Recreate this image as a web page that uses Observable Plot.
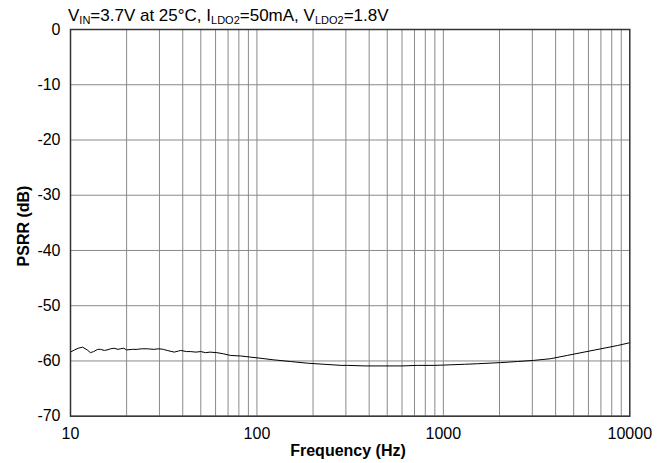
<!DOCTYPE html>
<html>
<head>
<meta charset="utf-8">
<script src="https://cdn.jsdelivr.net/npm/d3@7"></script>
<script src="https://cdn.jsdelivr.net/npm/@observablehq/plot@0.6"></script>
<style>
  body { margin: 0; background: #fff; }
  #chart svg { display: block; }
</style>
</head>
<body>
<div id="chart"></div>
<script>
const freq = [10, 10.5, 11, 11.6, 12.3, 12.8, 13.3, 14, 14.5, 15.2, 15.7, 16.4, 17.1, 18, 18.5, 19.3, 20, 21.5, 22.8, 24, 25.8, 28, 29.8, 31.5, 33, 35, 36, 38, 39, 42, 44, 47, 50, 53, 56, 61, 66, 72, 82, 92, 104, 123, 151, 186, 229, 283, 306, 380, 480, 600, 727, 900, 1095, 1300, 1527, 2030, 2500, 3050, 3750, 4620, 5680, 7000, 8610, 10000];
const psrr = [-58.4, -58.0, -57.7, -57.5, -58.0, -58.5, -58.3, -57.9, -57.9, -58.1, -58.0, -57.8, -57.7, -57.9, -57.8, -57.7, -58.0, -57.9, -57.9, -57.8, -57.8, -57.9, -57.8, -57.9, -58.1, -58.3, -58.4, -58.2, -58.1, -58.3, -58.3, -58.4, -58.3, -58.5, -58.4, -58.5, -58.7, -59.0, -59.1, -59.3, -59.5, -59.8, -60.1, -60.4, -60.6, -60.8, -60.8, -60.9, -60.9, -60.9, -60.8, -60.8, -60.7, -60.6, -60.5, -60.3, -60.1, -59.9, -59.6, -59.0, -58.4, -57.8, -57.2, -56.7];
const xTicks = [10, 100, 1000, 10000];
const xGrid = [20, 30, 40, 50, 60, 70, 80, 90, 100, 200, 300, 400, 500, 600, 700, 800, 900, 1000, 2000, 3000, 4000, 5000, 6000, 7000, 8000, 9000];
const yTicks = [-70, -60, -50, -40, -30, -20, -10, 0];

const data = freq.map((f, i) => ({f, v: psrr[i]}));

const chart = Plot.plot({
  width: 667,
  height: 463,
  marginLeft: 70,
  marginRight: 37.7,
  marginTop: 29,
  marginBottom: 47.3,
  style: {fontFamily: "Liberation Sans, Arial, sans-serif", fontSize: "16px", background: "#fff", color: "#000"},
  x: {type: "log", domain: [10, 10000]},
  y: {domain: [-70, 0]},
  marks: [
    Plot.ruleX(xGrid, {stroke: "#8a8a8a", strokeWidth: 1}),
    Plot.ruleY(yTicks, {stroke: "#8a8a8a", strokeWidth: 1}),
    Plot.line(data, {x: "f", y: "v", stroke: "#000", strokeWidth: 1}),
    Plot.frame({stroke: "#333", strokeWidth: 1.5}),
    Plot.axisX(xTicks, {tickSize: 0, tickPadding: 11, tickFormat: d => String(d), label: null, fontSize: 16}),
    Plot.axisY(yTicks, {tickSize: 0, tickPadding: 10, tickFormat: d => String(d), label: null, fontSize: 16})
  ]
});
document.getElementById("chart").appendChild(chart);

const svg = d3.select(chart);
// title with subscripts
const t = svg.append("text")
  .attr("x", 68).attr("y", 21)
  .attr("text-anchor", "start")
  .attr("font-family", "Liberation Sans, Arial, sans-serif")
  .attr("font-size", 17).attr("fill", "#000");
const parts = [["V", 0], ["IN", 1], ["=3.7V at 25°C, I", 0], ["LDO2", 1], ["=50mA, V", 0], ["LDO2", 1], ["=1.8V", 0]];
let sub = false;
parts.forEach(([s, isSub]) => {
  const ts = t.append("tspan").text(s);
  if (isSub && !sub) { ts.attr("font-size", 11).attr("dy", 3); sub = true; }
  else if (isSub) { ts.attr("font-size", 11); }
  else if (!isSub && sub) { ts.attr("dy", -3); sub = false; }
});

// axis labels
svg.append("text")
  .attr("x", 348).attr("y", 456)
  .attr("text-anchor", "middle")
  .attr("font-family", "Liberation Sans, Arial, sans-serif")
  .attr("font-size", 16).attr("font-weight", "bold")
  .text("Frequency (Hz)");
svg.append("text")
  .attr("transform", "translate(29,226) rotate(-90)")
  .attr("text-anchor", "middle")
  .attr("font-family", "Liberation Sans, Arial, sans-serif")
  .attr("font-size", 16).attr("font-weight", "bold")
  .text("PSRR (dB)");
</script>
</body>
</html>
